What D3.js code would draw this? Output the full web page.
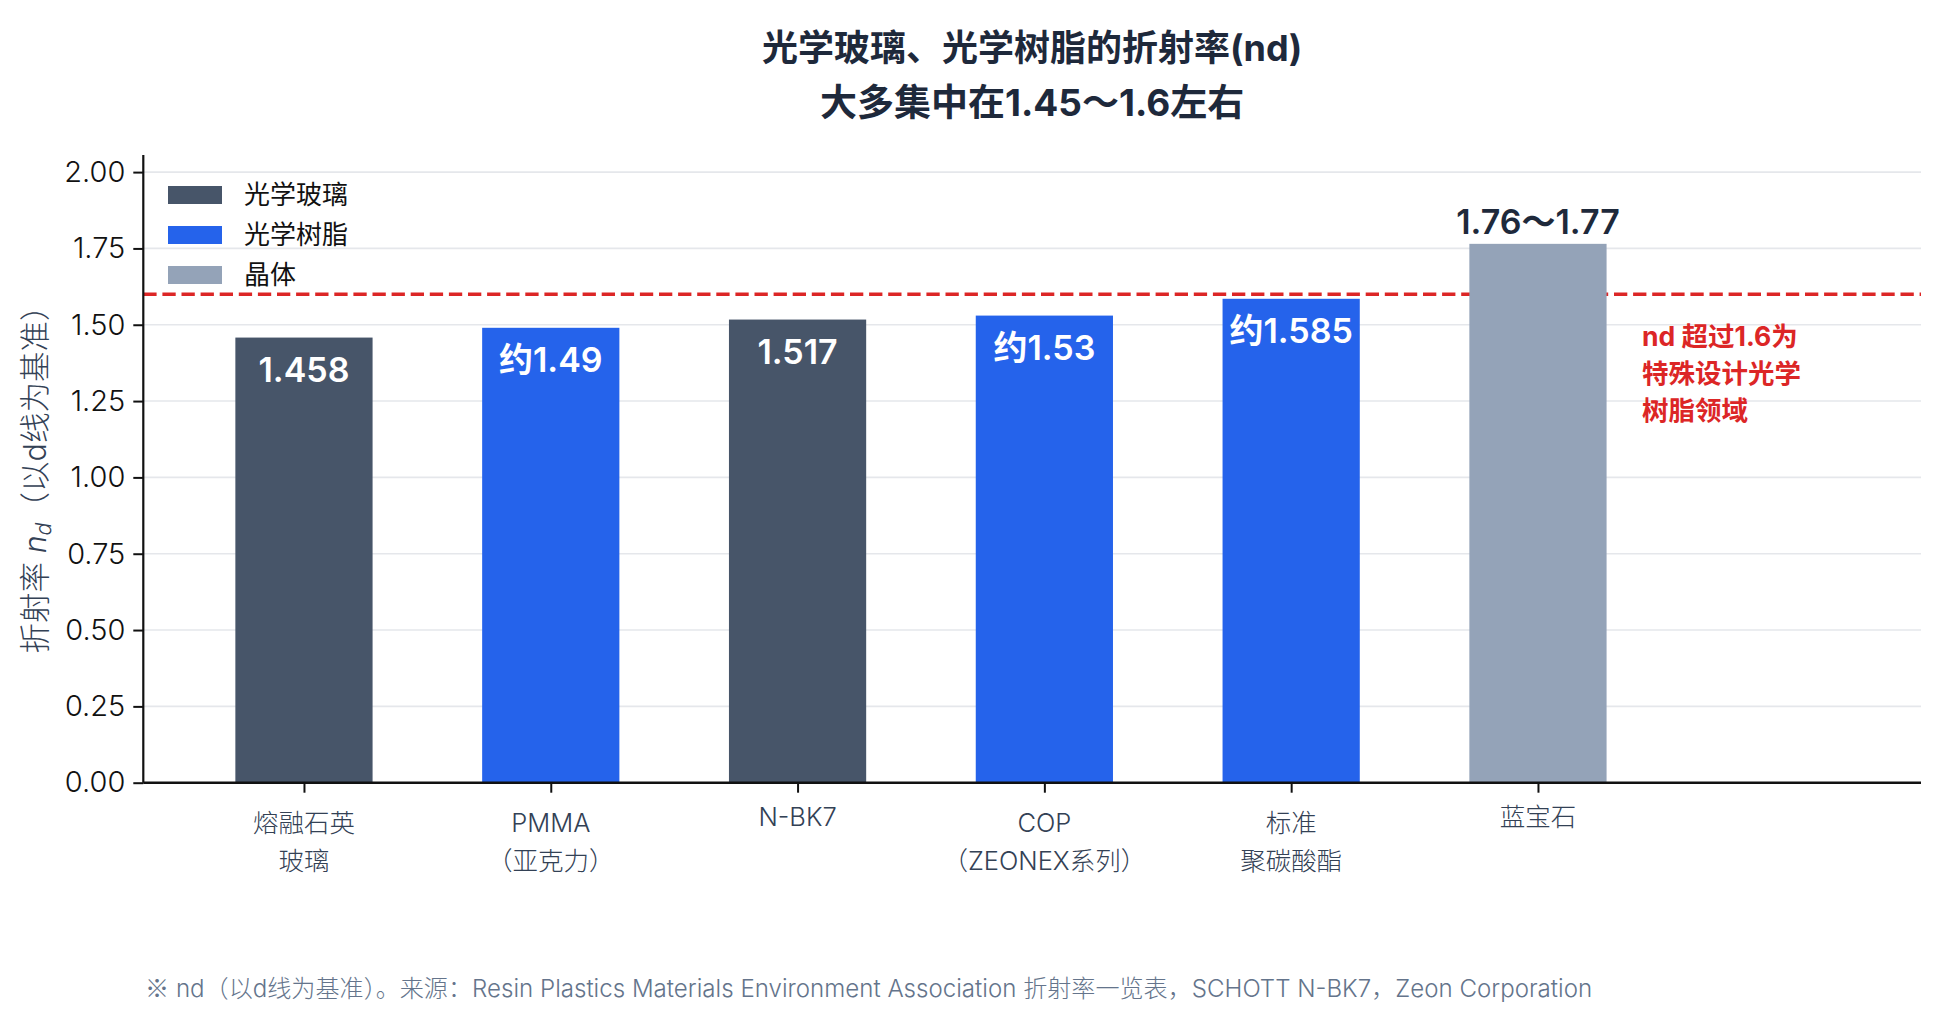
<!DOCTYPE html>
<html>
<head>
<meta charset="utf-8">
<script src="https://cdn.jsdelivr.net/npm/d3@7"></script>
<style>
html,body{margin:0;padding:0;background:#fff;}
svg{display:block;font-family:"Inter","Noto Sans CJK SC",sans-serif;}
</style>
</head>
<body>
<svg id="chart" width="1940" height="1021"></svg>
<script>
// ---- data ----
const categories = ["熔融石英\n玻璃", "PMMA\n（亚克力）", "N-BK7", "COP\n（ZEONEX系列）", "标准\n聚碳酸酯", "蓝宝石"];
const values = [1.458, 1.49, 1.517, 1.53, 1.585, 1.765];
const groups = ["光学玻璃", "光学树脂", "光学玻璃", "光学树脂", "光学树脂", "晶体"];
const valueLabels = ["1.458", "约1.49", "1.517", "约1.53", "约1.585", "1.76〜1.77"];
const legendGroups = ["光学玻璃", "光学树脂", "晶体"];
const yTicks = [0, 0.25, 0.5, 0.75, 1.0, 1.25, 1.5, 1.75, 2.0];
const threshold = 1.6;
const titleLines = ["光学玻璃、光学树脂的折射率(nd)", "大多集中在1.45〜1.6左右"];
const noteLines = ["nd 超过1.6为", "特殊设计光学", "树脂领域"];
const footnoteMark = "※";
const footnote = " nd（以d线为基准）。来源：Resin Plastics Materials Environment Association 折射率一览表，SCHOTT N-BK7，Zeon Corporation";

const colors = {"光学玻璃": "#475569", "光学树脂": "#2563eb", "晶体": "#94a3b8"};

// ---- layout ----
const svg = d3.select("#chart");
const L = 143.3, R = 1921, T = 155, B = 782.7;
const x = d3.scaleLinear().domain([-0.651, 6.552]).range([L, R]);
const y = d3.scaleLinear().domain([0, 2.056]).range([B, T]);
const barW = x(0.556) - x(0);

// grid
svg.append("g").selectAll("line").data(yTicks).join("line")
  .attr("x1", L).attr("x2", R)
  .attr("y1", d => y(d)).attr("y2", d => y(d))
  .attr("stroke", "#e5e7eb").attr("stroke-width", 1.6);

// threshold line
svg.append("line")
  .attr("x1", L).attr("x2", R)
  .attr("y1", y(threshold)).attr("y2", y(threshold))
  .attr("stroke", "#dc2626").attr("stroke-width", 3.4)
  .attr("stroke-dasharray", "13.3 5.8");

// bars
svg.append("g").selectAll("rect").data(values).join("rect")
  .attr("x", (d, i) => x(i) - barW / 2)
  .attr("width", barW)
  .attr("y", d => y(d))
  .attr("height", d => y(0) - y(d))
  .attr("fill", (d, i) => colors[groups[i]]);

// value labels
svg.append("g").selectAll("text").data(values).join("text")
  .attr("x", (d, i) => x(i))
  .attr("y", (d, i) => groups[i] === "晶体" ? y(d) - 10 : y(d) + 44)
  .attr("text-anchor", "middle")
  .attr("font-size", 34)
  .attr("font-weight", 600)
  .attr("fill", (d, i) => groups[i] === "晶体" ? "#1e293b" : "#ffffff")
  .text((d, i) => valueLabels[i]);

// y axis
const yAxis = d3.axisLeft(y).tickValues(yTicks).tickFormat(d3.format(".2f")).tickSize(10).tickPadding(8);
const gy = svg.append("g").attr("transform", `translate(${L},0)`).call(yAxis);
gy.select(".domain").attr("stroke", "#111").attr("stroke-width", 2.2).attr("d", `M0,${T}V${B}`);
gy.selectAll(".tick line").attr("stroke", "#111").attr("stroke-width", 2);
gy.selectAll(".tick text").attr("font-size", 29).attr("font-weight", 300).attr("fill", "#111")
  .attr("font-family", "Inter, 'Noto Sans CJK SC', sans-serif");

// x axis
const xAxis = d3.axisBottom(x).tickValues(d3.range(categories.length)).tickFormat("").tickSize(10);
const gx = svg.append("g").attr("transform", `translate(0,${B})`).call(xAxis);
gx.select(".domain").attr("stroke", "#111").attr("stroke-width", 2.4).attr("d", `M${L},0H${R}`);
gx.selectAll(".tick line").attr("stroke", "#111").attr("stroke-width", 2);

// x labels
const xl = svg.append("g");
categories.forEach((c, i) => {
  const lines = c.split("\n");
  const t = xl.append("text")
    .attr("text-anchor", "middle")
    .attr("font-size", 25.5)
    .attr("font-weight", 300)
    .attr("fill", "#334155");
  if (lines.length === 1) {
    t.append("tspan").attr("x", x(i)).attr("y", 826).text(lines[0]);
  } else {
    t.append("tspan").attr("x", x(i)).attr("y", 832).text(lines[0]);
    t.append("tspan").attr("x", x(i)).attr("y", 870).text(lines[1]);
  }
});

// y label
const yl = svg.append("text")
  .attr("transform", "translate(46,472) rotate(-90)")
  .attr("text-anchor", "middle")
  .attr("font-size", 30.5)
  .attr("font-weight", 300)
  .attr("fill", "#334155");
yl.append("tspan").text("折射率 ");
yl.append("tspan").attr("font-style", "italic").text("n");
yl.append("tspan").attr("font-style", "italic")
  .attr("font-size", 21.5).attr("dy", 5).text("d");
yl.append("tspan").attr("dy", -5).text("（以d线为基准）");

// legend
const lg = svg.append("g");
legendGroups.forEach((g, i) => {
  const cy = 195 + i * 40;
  lg.append("rect").attr("x", 168).attr("y", cy - 9).attr("width", 54).attr("height", 18).attr("fill", colors[g]);
  lg.append("text").attr("x", 244).attr("y", cy + 9).attr("font-size", 26).attr("fill", "#111").text(g);
});

// title
const cx = (L + R) / 2;
svg.append("text").attr("x", cx).attr("y", 61).attr("text-anchor", "middle")
  .attr("font-size", 36).attr("font-weight", "bold").attr("fill", "#1e293b").text(titleLines[0]);
svg.append("text").attr("x", cx).attr("y", 116).attr("text-anchor", "middle")
  .attr("font-size", 37).attr("font-weight", "bold").attr("fill", "#1e293b").text(titleLines[1]);

// annotation
noteLines.forEach((s, i) => {
  svg.append("text").attr("x", 1642).attr("y", 346 + i * 37.2)
    .attr("font-size", 26.5).attr("font-weight", "bold").attr("fill", "#dc2626").text(s);
});

// footnote
const fn = svg.append("text").attr("x", 145).attr("y", 997)
  .attr("font-size", 24.1).attr("font-weight", 300).attr("fill", "#64748b");
fn.append("tspan").attr("font-family", "'Noto Sans CJK SC', sans-serif").text(footnoteMark);
fn.append("tspan").text(footnote);
</script>
</body>
</html>
